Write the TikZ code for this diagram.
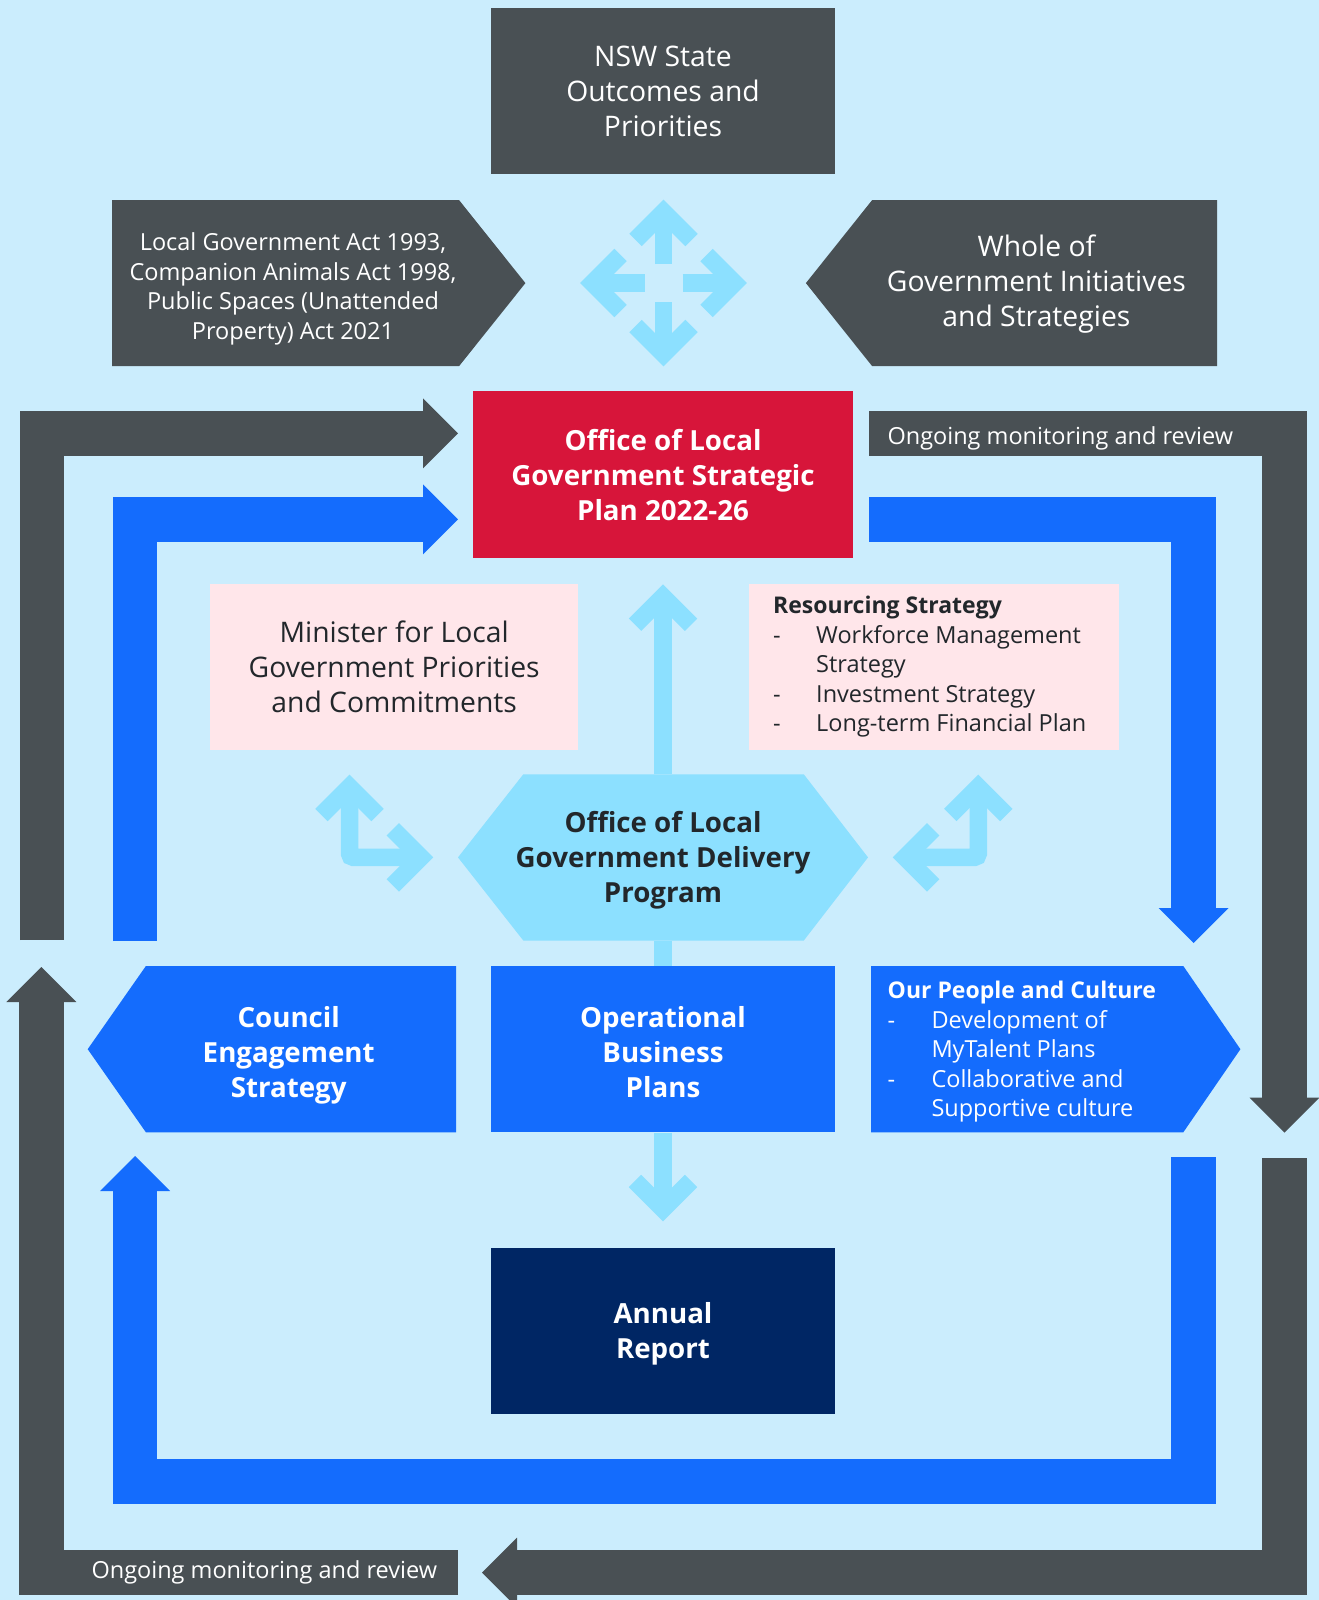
\documentclass[tikz,border=0pt]{standalone}
\usepackage{fontspec}
\setmainfont{Open Sans}
\usetikzlibrary{positioning}

\definecolor{bgblue}{HTML}{CBEDFD}
\definecolor{skyblue}{HTML}{8CE0FF}
\definecolor{slate}{HTML}{495054}
\definecolor{brightblue}{HTML}{146CFD}
\definecolor{nswred}{HTML}{D7153A}
\definecolor{navy}{HTML}{002664}
\definecolor{blush}{HTML}{FFE6EA}
\definecolor{ink}{HTML}{22272B}

\newcommand\fontL{\fontsize{28.3}{35}\selectfont}
\newcommand\fontB{\bfseries\fontsize{27.7}{35}\selectfont}
\newcommand\fontM{\fontsize{23.5}{29.5}\selectfont}
\newcommand\fontT{\bfseries\fontsize{23}{29.5}\selectfont}

% chevron head for the light arrows
\pgfdeclarearrow{
  name = Chev,
  setup code = {
    \pgfarrowssettipend{0pt}
    \pgfarrowssetlineend{-12pt}
    \pgfarrowssetbackend{-46pt}
  },
  drawing code = {
    \pgfsetmiterjoin
    \pgfsetbuttcap
    \pgfpathmoveto{\pgfqpoint{-40pt}{28pt}}
    \pgfpathlineto{\pgfqpoint{-12pt}{0pt}}
    \pgfpathlineto{\pgfqpoint{-40pt}{-28pt}}
    \pgfusepathqstroke
  },
}
% solid head for the wide bands
\pgfdeclarearrow{
  name = BigHead,
  setup code = {
    \pgfarrowssettipend{0pt}
    \pgfarrowssetlineend{-34pt}
    \pgfarrowssetbackend{-35pt}
  },
  drawing code = {
    \pgfpathmoveto{\pgfqpoint{0pt}{0pt}}
    \pgfpathlineto{\pgfqpoint{-35pt}{35pt}}
    \pgfpathlineto{\pgfqpoint{-35pt}{-35pt}}
    \pgfpathclose
    \pgfusepathqfill
  },
}

\tikzset{
  panel/.style={inner sep=0pt, minimum width=#1, minimum height=166.3pt, align=center},
  whitetxt/.style={text=white, align=center, font=\fontL},
  boldtxt/.style={text=white, align=center, font=\fontB},
  greyband/.style={slate, line width=44.5pt, line join=miter, -BigHead},
  blueband/.style={brightblue, line width=44.5pt, line join=miter, -BigHead},
  skyline/.style={skyblue, line width=17.5pt},
  skyarrow/.style={skyline, -Chev},
  skyboth/.style={skyline, Chev-Chev, rounded corners=4pt, shorten <=25pt, shorten >=25pt}
}

\begin{document}
\begin{tikzpicture}[x=1pt, y=-1pt]
  \useasboundingbox (0,0) rectangle (1319,1600);
  \fill[bgblue] (0,0) rectangle (1319,1600);

  % boxes
  \node[panel=344.8pt, fill=slate, whitetxt] (state) at (663,91.3) {NSW State\\Outcomes and\\Priorities};
  \node[panel=379.5pt, minimum height=167.3pt, fill=nswred, boldtxt, text depth=0pt] (strat) at (663,474.4) {Office of Local\\Government Strategic\\Plan 2022-26};
  \node[panel=368.4pt, fill=blush, text=ink, font=\fontL] (minister) at (394.2,666.7) {Minister for Local\\Government Priorities\\and Commitments};
  \node[panel=370.2pt, fill=blush] (resource) at (933.9,666.7) {};
  \node[panel=344.8pt, fill=brightblue] (oper) at (663,1049.2) {};
  \node[boldtxt] (opertext) at (663,1052.5) {Operational\\Business\\Plans};
  \node[panel=344.8pt, fill=navy] (annual) at (663,1330.8) {};
  \node[boldtxt] (annualtext) at (663,1334) {Annual\\Report};

  % pointed shapes
  \fill[slate] (112,200) -- (459,200) -- (525.4,283.1) -- (459,366.2) -- (112,366.2) -- cycle;
  \node[text=white, align=center, font=\fontM] (acts) at (293,289) {Local Government Act 1993,\\Companion Animals Act 1998,\\Public Spaces (Unattended\\Property) Act 2021};
  \fill[slate] (1217,200) -- (872.2,200) -- (805.9,283.1) -- (872.2,366.2) -- (1217,366.2) -- cycle;
  \node[whitetxt] (whole) at (1036.4,284.5) {Whole of\\Government Initiatives\\and Strategies};
  \fill[skyblue] (523.3,774.3) -- (803.8,774.3) -- (868,857.4) -- (803.8,940.5) -- (523.3,940.5) -- (458,857.4) -- cycle;
  \node[panel=410pt, minimum height=166.2pt] (deliv) at (663,857.4) {};
  \node[text=ink, align=center, font=\fontB] (delivtext) at (663,860) {Office of Local\\Government Delivery\\Program};
  \fill[brightblue] (87.7,1049.2) -- (145.9,966) -- (456,966) -- (456,1132.3) -- (145.9,1132.3) -- cycle;
  \node[boldtxt] (council) at (288.7,1055) {Council\\Engagement\\Strategy};
  \fill[brightblue] (871.2,966) -- (1183.3,966) -- (1240.4,1049.2) -- (1183.3,1132.3) -- (871.2,1132.3) -- cycle;

  % list texts
  \node[anchor=west, inner sep=0pt, text=ink, font=\fontM] (restext) at ([xshift=24.4pt]resource.west)
    {\begin{tabular}{@{}p{43pt}@{}l@{}}
      \multicolumn{2}{@{}l@{}}{\fontT Resourcing Strategy}\\
      - & Workforce Management\\
        & Strategy\\
      - & Investment Strategy\\
      - & Long-term Financial Plan
    \end{tabular}};
  \node[anchor=west, inner sep=0pt, text=white, font=\fontM] (peopletext) at (887.5,1051.7)
    {\begin{tabular}{@{}p{43.8pt}@{}l@{}}
      \multicolumn{2}{@{}l@{}}{\fontT Our People and Culture}\\
      - & Development of\\
        & MyTalent Plans\\
      - & Collaborative and\\
        & Supportive culture
    \end{tabular}};

  % free ends of the loops
  \coordinate (monR) at (869,433.5);
  \coordinate (monDown) at (1284.5,1132.7);
  \coordinate (monRB) at (1284.5,1158);
  \coordinate (monTip) at (482,1572.5);
  \coordinate (monLB) at (458,1572.5);
  \coordinate (monUp) at (41.3,967);
  \coordinate (monL) at (42.2,940);
  \coordinate (revL) at (135.2,941);
  \coordinate (revDown) at (1193.5,943);
  \coordinate (revRB) at (1193.5,1157.3);
  \coordinate (revUp) at (135.2,1156);
  \coordinate (hub) at (663.5,283);

  % grey monitoring loop
  \draw[greyband] (monL) |- ([shift={(-15,-41)}]strat.west);
  \draw[greyband] (monR) -| (monDown);
  \draw[greyband] (monRB) |- (monTip);
  \draw[greyband] (monLB) -| (monUp);
  \node[anchor=west, text=white, font=\fontM] (montextR) at (884,438) {Ongoing monitoring and review};
  \node[anchor=west, text=white, font=\fontM] (montextL) at (88,1572) {Ongoing monitoring and review};

  % blue planning loop
  \draw[blueband] (revL) |- ([shift={(-15,45)}]strat.west);
  \draw[blueband] ([shift={(16,45)}]strat.east) -| (revDown);
  \draw[blueband] (revRB) -- (1193.5,1481.5) -- (135.2,1481.5) -- (revUp);

  % light arrows
  \foreach \a in {0,90,180,270}
    \draw[skyarrow] (hub) ++(\a:19) -- ++(\a:64);
  \draw[skyarrow, shorten >=26.5pt] (deliv.north) -- (strat.south);
  \draw[skyline] (deliv.south) -- (oper.north);
  \draw[skyarrow, shorten >=26.5pt] (oper.south) -- (annual.north);
  \draw[skyboth] ([xshift=-44.7pt]minister.south) |- (deliv.west);
  \draw[skyboth] ([xshift=44.4pt]resource.south) |- (deliv.east);
\end{tikzpicture}
\end{document}
